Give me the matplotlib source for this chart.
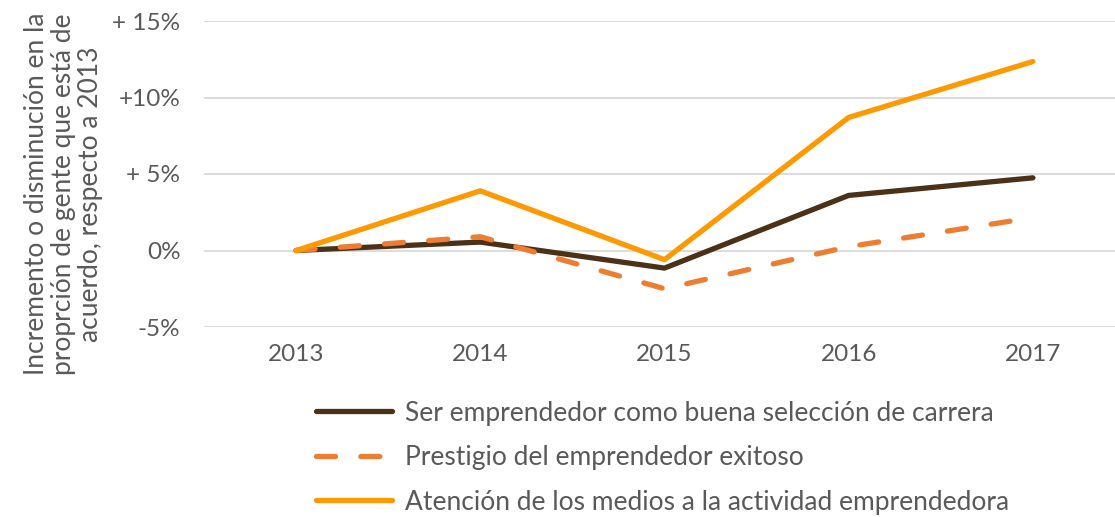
import matplotlib.pyplot as plt

years = ["2013", "2014", "2015", "2016", "2017"]
carrera = [0.0, 0.55, -1.15, 3.6, 4.75]
prestigio = [0.0, 0.9, -2.5, 0.25, 2.15]
medios = [0.0, 3.9, -0.6, 8.7, 12.35]

labels = [
    "Ser emprendedor como buena selección de carrera",
    "Prestigio del emprendedor exitoso",
    "Atención de los medios a la actividad emprendedora",
]
yticks = [-5, 0, 5, 10, 15]
ytick_labels = ["-5%", "0%", "+ 5%", "+10%", "+ 15%"]

plt.rcParams["font.family"] = ["Lato", "DejaVu Sans"]
gray = "#595959"

fig = plt.figure(figsize=(11.15, 5.17), dpi=100)
W, H = 1115, 517
ax = fig.add_axes([204 / W, 1 - 327 / H, (1125 - 204) / W, (327 - 21) / H])

x = range(len(years))
l1, = ax.plot(x, carrera, color="#4A3117", lw=3.8, solid_capstyle="round",
              solid_joinstyle="round", zorder=3)
l2, = ax.plot(x, prestigio, color="#ED7D31", lw=3.8, dashes=(3.6, 4.8),
              dash_capstyle="round", zorder=4)
l3, = ax.plot(x, medios, color="#FF9900", lw=3.8, solid_capstyle="round",
              solid_joinstyle="round", zorder=5)

ax.set_xlim(-0.5, len(years) - 0.5)
ax.set_ylim(-5, 15)
ax.set_xticks(list(x))
ax.set_xticklabels(years)
ax.set_yticks(yticks)
ax.set_yticklabels(ytick_labels)
ax.tick_params(length=0, labelsize=17.5, colors=gray, pad=12)
ax.tick_params(axis="y", pad=17)
ax.grid(axis="y", color="#D9D9D9", lw=1.3)
ax.set_axisbelow(True)
for s in ax.spines.values():
    s.set_visible(False)

fig.text(0.057, 1 - 194 / H,
         "Incremento o disminución en la\nproprción de gente que está de\nacuerdo, respecto a 2013",
         rotation=90, ha="center", va="center", fontsize=19, color=gray,
         linespacing=1.12)

fig.legend([l1, l2, l3], labels, loc="upper left",
           bbox_to_anchor=(305 / W, 1 - 390 / H), frameon=False,
           fontsize=19, labelcolor=gray, handlelength=2.9,
           handletextpad=0.5, labelspacing=0.74, borderaxespad=0)

fig.savefig("out.png", dpi=100)
